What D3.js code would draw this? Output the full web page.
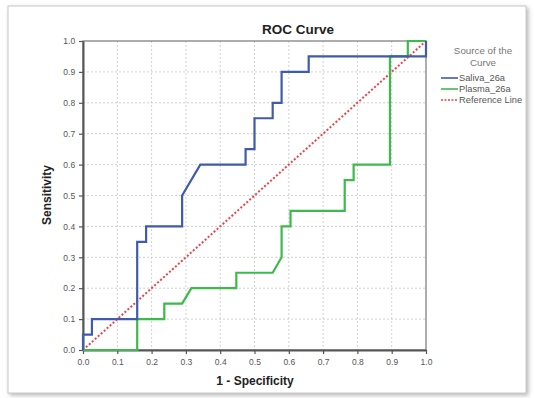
<!DOCTYPE html>
<html><head><meta charset="utf-8">
<script src="https://cdn.jsdelivr.net/npm/d3@7"></script>
<style>body{margin:0;background:#fff}svg{display:block;font-family:"Liberation Sans",Arial,sans-serif}</style>
</head><body><svg id="c" width="534" height="398"></svg>
<script>
const ticks = [0,0.1,0.2,0.3,0.4,0.5,0.6,0.7,0.8,0.9,1.0];
const salivaX = [0,0,0.026,0.026,0.158,0.158,0.184,0.184,0.289,0.289,0.342,0.474,0.474,0.5,0.5,0.553,0.553,0.579,0.579,0.658,0.658,1,1];
const salivaY = [0,0.05,0.05,0.10,0.10,0.35,0.35,0.40,0.40,0.50,0.60,0.60,0.65,0.65,0.75,0.75,0.80,0.80,0.90,0.90,0.95,0.95,1.0];
const plasmaX = [0,0.158,0.158,0.237,0.237,0.289,0.316,0.447,0.447,0.553,0.579,0.579,0.605,0.605,0.763,0.763,0.789,0.789,0.895,0.895,0.947,0.947,1];
const plasmaY = [0,0,0.10,0.10,0.15,0.15,0.20,0.20,0.25,0.25,0.30,0.40,0.40,0.45,0.45,0.55,0.55,0.60,0.60,0.95,0.95,1.0,1.0];
const refX = [0,1], refY = [0,1];
const seriesNames = ["Saliva_26a","Plasma_26a","Reference Line"];

const svg = d3.select("#c");
const defs = svg.append("defs");
const f = defs.append("filter").attr("id","sh").attr("x","-5%").attr("y","-5%").attr("width","110%").attr("height","110%");
f.append("feDropShadow").attr("dx",2).attr("dy",2).attr("stdDeviation",2).attr("flood-color","#888").attr("flood-opacity",0.6);
svg.append("rect").attr("x",8).attr("y",6).attr("width",518).attr("height",387)
  .attr("fill","#fff").attr("stroke","#c8c8c8").attr("stroke-width",1).attr("filter","url(#sh)");

const L=83, R=426, T=41, B=350;
const x = d3.scaleLinear().domain([0,1]).range([L,R]);
const y = d3.scaleLinear().domain([0,1]).range([B,T]);
const g = svg.append("g");

// grid
g.selectAll(".gx").data(ticks.slice(1,-1)).join("line")
  .attr("x1",d=>x(d)).attr("x2",d=>x(d)).attr("y1",T).attr("y2",B)
  .attr("stroke","#c4c4c4").attr("stroke-width",0.8).attr("stroke-dasharray","2,2");
g.selectAll(".gy").data(ticks.slice(1,-1)).join("line")
  .attr("y1",d=>y(d)).attr("y2",d=>y(d)).attr("x1",L).attr("x2",R)
  .attr("stroke","#c4c4c4").attr("stroke-width",0.8).attr("stroke-dasharray","2,2");

// frame
g.append("rect").attr("x",L).attr("y",T).attr("width",R-L).attr("height",B-T)
  .attr("fill","none").attr("stroke","#777").attr("stroke-width",1.2);

const ax = svg.append("g").attr("transform",`translate(0,${B})`)
  .call(d3.axisBottom(x).tickValues(ticks).tickFormat(d3.format(".1f")).tickSize(4).tickSizeOuter(0));
const ay = svg.append("g").attr("transform",`translate(${L},0)`)
  .call(d3.axisLeft(y).tickValues(ticks).tickFormat(d3.format(".1f")).tickSize(4).tickSizeOuter(0));
[ax,ay].forEach(a=>{
  a.select(".domain").attr("stroke","#555").attr("stroke-width",2);
  a.selectAll(".tick line").attr("stroke","#555").attr("stroke-width",1.2);
  a.selectAll("text").attr("fill","#555").attr("font-size",8.5).attr("font-family","Liberation Sans, Arial, sans-serif");
});
ax.selectAll("text").attr("dy","0.9em");
ay.selectAll("text").attr("dx","-0.1em");

const line = d3.line().x(d=>x(d[0])).y(d=>y(d[1]));
const zip = (a,b)=>a.map((v,i)=>[v,b[i]]);
svg.append("path").attr("d",line(zip(refX,refY))).attr("fill","none")
  .attr("stroke","#f0404a").attr("stroke-width",2).attr("stroke-dasharray","2,2");
svg.append("path").attr("d",line(zip(plasmaX,plasmaY))).attr("fill","none")
  .attr("stroke","#3cba4a").attr("stroke-width",2.2).attr("stroke-linejoin","miter");
svg.append("path").attr("d",line(zip(salivaX,salivaY))).attr("fill","none")
  .attr("stroke","#3f5bab").attr("stroke-width",2.2).attr("stroke-linejoin","miter");

// titles
svg.append("text").attr("x",298).attr("y",34).attr("text-anchor","middle")
  .attr("font-size",13.5).attr("font-weight","bold").attr("fill","#222").text("ROC Curve");
svg.append("text").attr("x",255).attr("y",385).attr("text-anchor","middle")
  .attr("font-size",12).attr("font-weight","bold").attr("fill","#222").text("1 - Specificity");
svg.append("text").attr("transform","translate(51,195) rotate(-90)").attr("text-anchor","middle")
  .attr("font-size",12).attr("font-weight","bold").attr("fill","#222").text("Sensitivity");

// legend
svg.append("text").attr("x",483).attr("y",54).attr("text-anchor","middle").attr("font-size",9.8).attr("fill","#777").text("Source of the");
svg.append("text").attr("x",483).attr("y",65.5).attr("text-anchor","middle").attr("font-size",9.8).attr("fill","#777").text("Curve");
const lc = ["#3f5bab","#3cba4a","#f0404a"], ld=[null,null,"2,1.5"];
seriesNames.forEach((n,i)=>{
  const yy = 78 + i*11;
  svg.append("line").attr("x1",441).attr("x2",458).attr("y1",yy).attr("y2",yy)
    .attr("stroke",lc[i]).attr("stroke-width",1.6).attr("stroke-dasharray",ld[i]);
  svg.append("text").attr("x",459).attr("y",yy+3).attr("font-size",9.3).attr("fill","#555").text(n);
});
</script></body></html>
